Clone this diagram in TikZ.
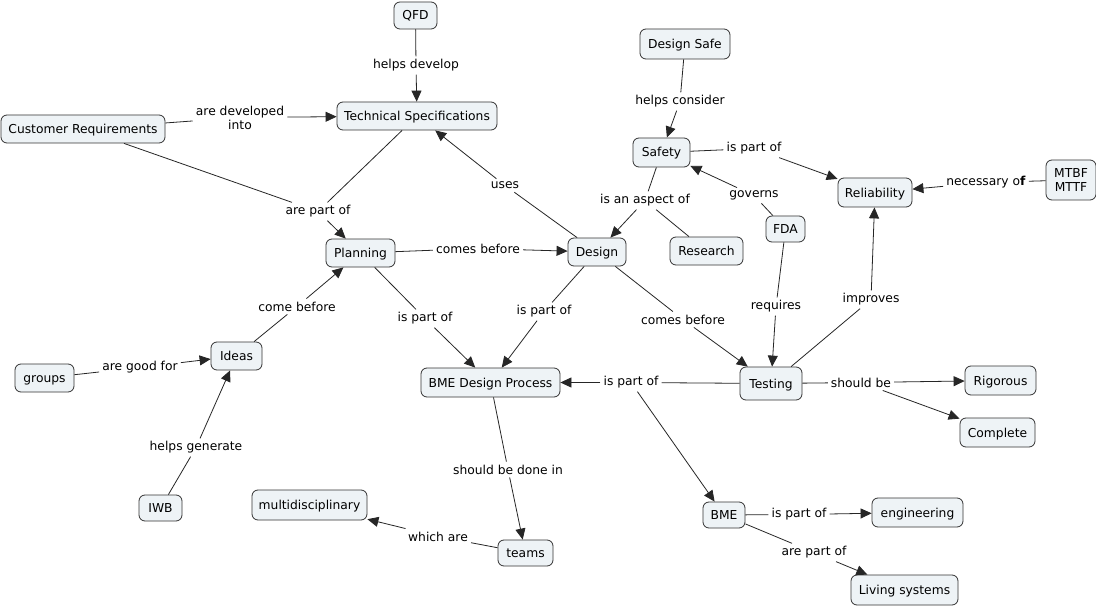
\documentclass[tikz,border=0pt]{standalone}
\usepackage{fontspec}
\setmainfont{DejaVu Sans}
\usetikzlibrary{arrows.meta}
\definecolor{nodefill}{HTML}{EEF3F6}
\begin{document}
\begin{tikzpicture}[x=1pt,y=-1pt,
 concept/.style={draw=black!80, line width=0.8pt, fill=nodefill, rounded corners=6pt, inner sep=0pt, align=center, text height=10.5pt, text depth=1.5pt, font=\fontsize{12.3}{14}\selectfont},
 lbl/.style={inner sep=3pt, align=center, yshift=-1.5pt, font=\fontsize{12.3}{14}\selectfont},
 con/.style={line width=0.8pt, draw=black!85},
 arr/.style={con, -{Triangle[length=11pt,width=10pt]}}]
\useasboundingbox[fill=white] (0,0) rectangle (1096,607);
% concepts
\node[concept, minimum width=43pt, minimum height=27pt] (qfd) at (415.5,15.5) {QFD};
\node[concept, minimum width=160pt, minimum height=28pt] (ts) at (417,116) {Technical Specifications};
\node[concept, minimum width=164pt, minimum height=28pt] (cr) at (83,129) {Customer Requirements};
\node[concept, minimum width=69pt, minimum height=28pt] (plan) at (360.5,253) {Planning};
\node[concept, minimum width=58pt, minimum height=28pt] (design) at (597,252) {Design};
\node[concept, minimum width=90pt, minimum height=30pt] (dsafe) at (685,44) {Design Safe};
\node[concept, minimum width=57pt, minimum height=29pt] (safety) at (661.5,152.5) {Safety};
\node[concept, minimum width=73pt, minimum height=28pt] (research) at (706.5,251) {Research};
\node[concept, minimum width=39pt, minimum height=26pt] (fda) at (785.5,229) {FDA};
\node[concept, minimum width=74pt, minimum height=29pt] (rel) at (875,192.5) {Reliability};
\node[concept, minimum width=50pt, minimum height=40pt, text height=, text depth=] (mtbf) at (1071,180) {MTBF\\MTTF};
\node[concept, minimum width=51pt, minimum height=28pt] (ideas) at (236.5,356) {Ideas};
\node[concept, minimum width=59pt, minimum height=28pt] (groups) at (44.5,378) {groups};
\node[concept, minimum width=43pt, minimum height=26pt] (iwb) at (160.5,508) {IWB};
\node[concept, minimum width=139pt, minimum height=29pt] (bmedp) at (490.5,382.5) {BME Design Process};
\node[concept, minimum width=62pt, minimum height=33pt] (testing) at (771,383.5) {Testing};
\node[concept, minimum width=71pt, minimum height=29pt] (rig) at (1000.5,380.5) {Rigorous};
\node[concept, minimum width=75pt, minimum height=29pt] (comp) at (997.5,432.5) {Complete};
\node[concept, minimum width=115pt, minimum height=30pt] (multi) at (309.5,505) {multidisciplinary};
\node[concept, minimum width=55pt, minimum height=26pt] (teams) at (525.5,553) {teams};
\node[concept, minimum width=42pt, minimum height=26pt] (bme) at (724,515) {BME};
\node[concept, minimum width=91pt, minimum height=29pt] (eng) at (917.5,512.5) {engineering};
\node[concept, minimum width=107pt, minimum height=30pt] (living) at (904.5,590) {Living systems};
% linking phrases
\node[lbl] (l1) at (416,64) {helps develop};
\node[lbl] (l2) at (240,116) {are developed\\into};
\node[lbl] (l3) at (318,210) {are part of};
\node[lbl] (l4) at (505,184) {uses};
\node[lbl] (l5) at (478,247) {comes before};
\node[lbl] (l6) at (297,305) {come before};
\node[lbl] (l7) at (425,317) {is part of};
\node[lbl] (l8) at (544,310) {is part of};
\node[lbl] (l9) at (683,318) {comes before};
\node[lbl] (l10) at (680,100) {helps consider};
\node[lbl] (l11) at (754,147) {is part of};
\node[lbl] (l12) at (645,199) {is an aspect of};
\node[lbl] (l13) at (754,194) {governs};
\node[lbl] (l14) at (986,181) {necessary o\textbf{f}};
\node[lbl] (l15) at (776,305) {requires};
\node[lbl] (l16) at (871,298) {improves};
\node[lbl] (l17) at (140,366) {are good for};
\node[lbl] (l18) at (196,446) {helps generate};
\node[lbl] (l19) at (508,468) {should be done in};
\node[lbl] (l20) at (438,535) {which are};
\node[lbl] (l21) at (631,381) {is part of};
\node[lbl] (l22) at (861,381) {should be};
\node[lbl] (l23) at (799,513) {is part of};
\node[lbl] (l24) at (814,551) {are part of};
% connections
\draw[con] (qfd) -- (l1); \draw[arr] (l1) -- (ts);
\draw[con] (cr) -- (l2); \draw[arr] (l2) -- (ts);
\draw[con] (cr) -- (l3); \draw[con] (ts) -- (l3); \draw[arr] (l3) -- (plan);
\draw[con] (design) -- (l4); \draw[arr] (l4) -- (ts);
\draw[con] (plan) -- (l5); \draw[arr] (l5) -- (design);
\draw[con] (ideas) -- (l6); \draw[arr] (l6) -- (plan);
\draw[con] (plan) -- (l7); \draw[arr] (l7) -- (bmedp);
\draw[con] (design) -- (l8); \draw[arr] (l8) -- (bmedp);
\draw[con] (design) -- (l9); \draw[arr] (l9) -- (testing);
\draw[con] (dsafe) -- (l10); \draw[arr] (l10) -- (safety);
\draw[con] (safety) -- (l11); \draw[arr] (l11) -- (rel);
\draw[con] (safety) -- (l12); \draw[con] (research) -- (l12); \draw[arr] (l12) -- (design);
\draw[con] (fda) -- (l13); \draw[arr] (l13) -- (safety);
\draw[con] (mtbf) -- (l14); \draw[arr] (l14) -- (rel);
\draw[con] (fda) -- (l15); \draw[arr] (l15) -- (testing);
\draw[con] (testing) -- (l16); \draw[arr] (l16) -- (rel);
\draw[con] (groups) -- (l17); \draw[arr] (l17) -- (ideas);
\draw[con] (iwb) -- (l18); \draw[arr] (l18) -- (ideas);
\draw[con] (bmedp) -- (l19); \draw[arr] (l19) -- (teams);
\draw[con] (teams) -- (l20); \draw[arr] (l20) -- (multi);
\draw[con] (testing) -- (l21); \draw[arr] (l21) -- (bmedp); \draw[arr] (l21) -- (bme);
\draw[con] (testing) -- (l22); \draw[arr] (l22) -- (rig); \draw[arr] (l22) -- (comp);
\draw[con] (bme) -- (l23); \draw[arr] (l23) -- (eng);
\draw[con] (bme) -- (l24); \draw[arr] (l24) -- (living);
\end{tikzpicture}
\end{document}
